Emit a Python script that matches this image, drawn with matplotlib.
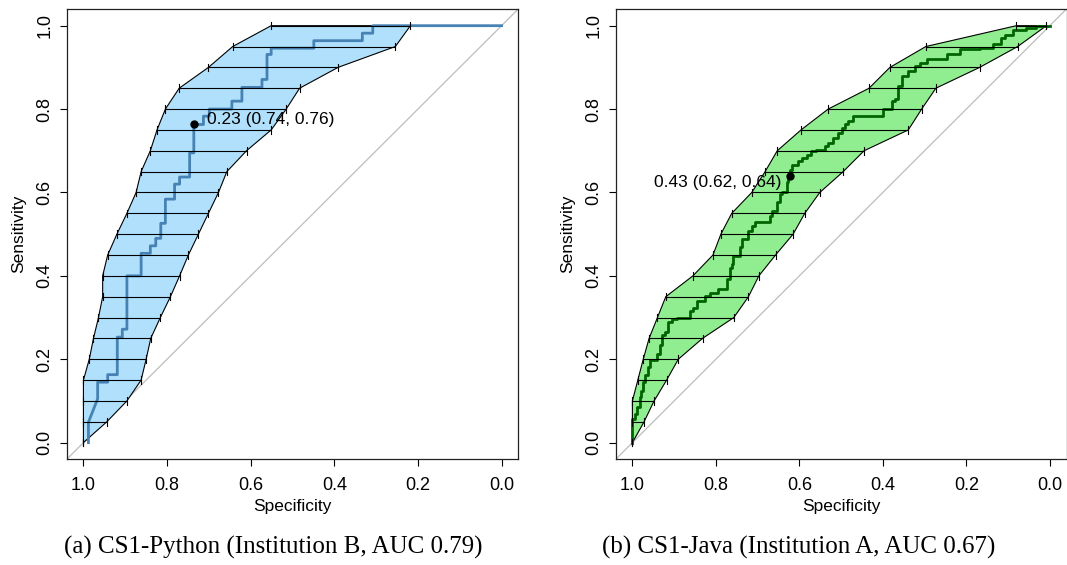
import matplotlib
matplotlib.use("Agg")
import matplotlib.pyplot as plt
import numpy as np

plt.rcParams['font.family'] = ['Liberation Sans', 'DejaVu Sans']

# ---------------- data ----------------
sens_levels = [0.00, 0.05, 0.10, 0.15, 0.20, 0.25, 0.30, 0.35, 0.40, 0.45, 0.50,
               0.55, 0.60, 0.65, 0.70, 0.75, 0.80, 0.85, 0.90, 0.95, 1.00]

# CS1-Python (Institution B): specificity CI at each sensitivity level
py_sp_high = [1.000, 1.000, 1.000, 1.000, 0.986, 0.976, 0.964, 0.954, 0.954, 0.942, 0.920,
              0.896, 0.874, 0.862, 0.840, 0.824, 0.804, 0.771, 0.701, 0.643, 0.551]
py_sp_low = [1.000, 0.944, 0.896, 0.862, 0.850, 0.839, 0.816, 0.792, 0.770, 0.749, 0.725,
             0.701, 0.677, 0.657, 0.610, 0.551, 0.515, 0.483, 0.391, 0.254, 0.218]

# CS1-Python ROC curve (specificity, sensitivity)
py_roc_spec = [0.988, 0.988, 0.966, 0.966, 0.942, 0.942, 0.919, 0.919, 0.907, 0.907,
               0.896, 0.896, 0.862, 0.862, 0.840, 0.840, 0.827, 0.827, 0.815, 0.815,
               0.804, 0.804, 0.782, 0.782, 0.770, 0.770, 0.746, 0.746, 0.736, 0.736,
               0.713, 0.713, 0.699, 0.699, 0.645, 0.645, 0.621, 0.621, 0.573, 0.573,
               0.561, 0.561, 0.551, 0.551, 0.449, 0.449, 0.333, 0.333, 0.308, 0.308, 0.000]
py_roc_sens = [0.000, 0.049, 0.105, 0.145, 0.145, 0.163, 0.163, 0.253, 0.253, 0.272,
               0.272, 0.400, 0.400, 0.454, 0.454, 0.472, 0.472, 0.490, 0.490, 0.526,
               0.526, 0.584, 0.584, 0.620, 0.620, 0.637, 0.637, 0.695, 0.695, 0.763,
               0.763, 0.783, 0.783, 0.800, 0.800, 0.819, 0.819, 0.852, 0.852, 0.871,
               0.871, 0.931, 0.931, 0.946, 0.946, 0.964, 0.964, 0.982, 0.982, 1.000, 1.000]
py_best_label = "0.23 (0.74, 0.76)"
py_best_spec = 0.736
py_best_sens = 0.763

# CS1-Java (Institution A)
jv_sp_high = [1.000, 1.000, 1.000, 0.987, 0.974, 0.960, 0.940, 0.920, 0.855, 0.807, 0.788,
              0.762, 0.714, 0.682, 0.653, 0.596, 0.531, 0.433, 0.383, 0.297, 0.080]
jv_sp_low = [1.000, 0.972, 0.948, 0.918, 0.890, 0.832, 0.757, 0.722, 0.697, 0.657, 0.615,
             0.587, 0.551, 0.495, 0.445, 0.339, 0.307, 0.273, 0.168, 0.077, 0.008]

jv_roc_spec = [1.000, 1.000, 0.994, 0.990, 0.982, 0.980, 0.974, 0.970, 0.962, 0.958,
               0.942, 0.934, 0.930, 0.923, 0.914, 0.906, 0.894, 0.862, 0.854, 0.846,
               0.826, 0.814, 0.794, 0.774, 0.766, 0.762, 0.758, 0.742, 0.738, 0.722,
               0.714, 0.706, 0.670, 0.666, 0.654, 0.646, 0.642, 0.630, 0.627, 0.622,
               0.618, 0.603, 0.594, 0.582, 0.571, 0.559, 0.539, 0.531, 0.519, 0.507,
               0.499, 0.491, 0.483, 0.471, 0.455, 0.399, 0.379, 0.371, 0.363, 0.355,
               0.339, 0.323, 0.311, 0.295, 0.267, 0.247, 0.215, 0.168, 0.136, 0.116,
               0.108, 0.088, 0.056, 0.032, 0.012, 0.000]
jv_roc_sens = [0.000, 0.053, 0.057, 0.069, 0.085, 0.109, 0.125, 0.145, 0.161, 0.181,
               0.197, 0.213, 0.233, 0.257, 0.265, 0.289, 0.297, 0.300, 0.316, 0.324,
               0.340, 0.352, 0.360, 0.368, 0.392, 0.420, 0.428, 0.448, 0.468, 0.488,
               0.508, 0.520, 0.528, 0.544, 0.556, 0.576, 0.596, 0.600, 0.624, 0.639,
               0.655, 0.667, 0.675, 0.683, 0.691, 0.699, 0.703, 0.711, 0.719, 0.731,
               0.743, 0.755, 0.763, 0.771, 0.783, 0.783, 0.799, 0.819, 0.823, 0.855,
               0.879, 0.891, 0.903, 0.911, 0.919, 0.919, 0.931, 0.943, 0.946, 0.955,
               0.970, 0.978, 0.990, 0.995, 1.000, 1.000]
jv_best_label = "0.43 (0.62, 0.64)"
jv_best_spec = 0.622
jv_best_sens = 0.639

ticks = [1.0, 0.8, 0.6, 0.4, 0.2, 0.0]
tick_labels = ["1.0", "0.8", "0.6", "0.4", "0.2", "0.0"]
captions = ["(a) CS1-Python (Institution B, AUC 0.79)",
            "(b) CS1-Java (Institution A, AUC 0.67)"]

# ---------------- figure ----------------
W, H = 1067, 565
fig = plt.figure(figsize=(W / 100, H / 100), dpi=100)


def px_axes(x0, y0, x1, y1):
    return fig.add_axes([x0 / W, 1 - y1 / H, (x1 - x0) / W, (y1 - y0) / H])


def draw_panel(ax, sp_high, sp_low, roc_x, roc_y, fill_col, line_col, step,
               label, bx, by, txt_xy, txt_ha):
    ax.set_xlim(1.04, -0.04)
    ax.set_ylim(-0.04, 1.04)
    # diagonal
    ax.plot([1.04, -0.04], [-0.04, 1.04], color='#BDBDBD', lw=0.9, zorder=1)
    # CI shape
    poly_x = list(sp_high) + list(sp_low)[::-1]
    poly_y = list(sens_levels) + list(sens_levels)[::-1]
    ax.fill(poly_x, poly_y, facecolor=fill_col, edgecolor='black', lw=0.8, zorder=2)
    # ROC curve
    if step:
        ax.plot(roc_x, roc_y, color=line_col, lw=2.0, drawstyle='steps-pre', zorder=3)
    else:
        ax.plot(roc_x, roc_y, color=line_col, lw=2.0, zorder=3)
    # CI bars
    cap = 0.009
    for s, hi, lo in zip(sens_levels, sp_high, sp_low):
        ax.plot([hi, lo], [s, s], color='black', lw=0.8, zorder=4)
        ax.plot([hi, hi], [s - cap, s + cap], color='black', lw=0.8, zorder=4)
        ax.plot([lo, lo], [s - cap, s + cap], color='black', lw=0.8, zorder=4)
    # best threshold
    ax.plot([bx], [by], 'o', color='black', ms=5, zorder=5)
    ax.text(txt_xy[0], txt_xy[1], label, ha=txt_ha, va='center', fontsize=12.5, zorder=6)

    ax.set_xticks(ticks)
    ax.set_xticklabels(tick_labels)
    ax.set_yticks(ticks)
    ax.set_yticklabels(tick_labels, rotation=90, va='center')
    ax.tick_params(direction='out', length=5, width=0.8, labelsize=13)
    ax.tick_params(axis='x', pad=7.5)
    ax.tick_params(axis='y', pad=4.5)
    ax.set_xlabel("Specificity", fontsize=12.5, labelpad=3.5)
    ax.set_ylabel("Sensitivity", fontsize=12.5, labelpad=7.5)
    for sp in ax.spines.values():
        sp.set_linewidth(0.9)
        sp.set_color('#222222')


ax1 = px_axes(66.7, 9, 518.3, 459.3)
draw_panel(ax1, py_sp_high, py_sp_low, py_roc_spec, py_roc_sens, '#B0E0FB', '#4682B4',
           False, py_best_label, py_best_spec, py_best_sens, (0.705, 0.776), 'left')

ax2 = px_axes(615.7, 9, 1066.5, 459.3)
draw_panel(ax2, jv_sp_high, jv_sp_low, jv_roc_spec, jv_roc_sens, '#90EE90', '#006400',
           True, jv_best_label, jv_best_spec, jv_best_sens, (0.642, 0.623), 'right')

fig.text(273 / W, 1 - 547 / H, captions[0], ha='center', va='center',
         fontsize=18, family='Liberation Serif')
fig.text(799 / W, 1 - 547 / H, captions[1], ha='center', va='center',
         fontsize=18, family='Liberation Serif')

fig.savefig("out.png", dpi=100)
